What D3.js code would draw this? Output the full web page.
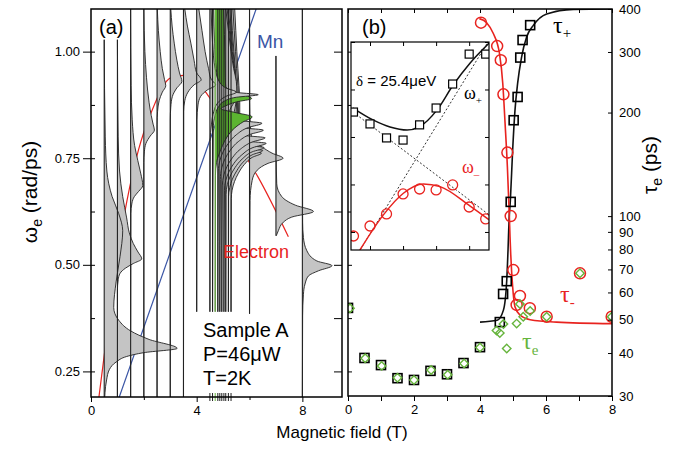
<!DOCTYPE html>
<html lang="en">
<head>
<meta charset="utf-8">
<title>Electron / Mn precession spectra and lifetimes</title>
<script src="https://cdn.jsdelivr.net/npm/d3@7"></script>
<style>
  body { margin: 0; background: #fff; }
  svg text { font-family: "Liberation Sans", Arial, sans-serif; fill: #000; }
  .serif { font-family: "Liberation Serif", "Times New Roman", serif !important; }
  .axis path.domain { display: none; }
  .axis line { stroke: #000; stroke-width: 1; }
  .axis text { font-size: 13px; }
</style>
</head>
<body>
<script>

// ---------- panel (a): spectra, one per field (T) ----------
var specField  = [0.5, 1.0, 1.5, 2.0, 2.5, 3.0, 3.5, 4.0, 4.5, 4.6, 4.7, 4.8, 4.875, 4.95, 5.03, 5.1, 5.2, 5.3, 6.0, 7.0, 8.0];
var specTop    = [1.028, 1.028, 1.10, 1.10, 1.10, 1.10, 1.10, 1.10, 1.10, 1.10, 1.10, 1.10, 1.10, 1.10, 1.10, 1.10, 1.10, 1.10, 1.10, 0.99, 1.10];
var specBottom = [0.19, 0.19, 0.19, 0.19, 0.19, 0.19, 0.19, 0.39, 0.39, 0.39, 0.39, 0.39, 0.39, 0.39, 0.39, 0.39, 0.39, 0.39, 0.385, 0.568, 0.19];
var specGreen  = 4.7;
// [omega (rad/ps), amplitude (T)]
var specCurve = [
  [[1.028,0],[0.80,0.04],[0.72,0.1],[0.66,0.3],[0.62,0.55],[0.58,0.7],[0.52,0.6],[0.46,0.45],[0.40,0.36],[0.37,0.55],[0.345,1.0],[0.325,1.7],[0.304,2.76],[0.294,1.5],[0.285,0.85],[0.272,0.45],[0.255,0.2],[0.23,0.09],[0.20,0.03],[0.19,0.02]],
  [[1.028,0],[0.80,0.03],[0.72,0.08],[0.66,0.2],[0.61,0.35],[0.575,0.45],[0.55,0.6],[0.53,0.78],[0.514,0.92],[0.503,0.6],[0.492,0.3],[0.48,0.1],[0.465,0.03],[0.44,0],[0.19,0]],
  [[1.10,0],[0.92,0.02],[0.84,0.06],[0.78,0.15],[0.745,0.27],[0.715,0.38],[0.686,0.46],[0.672,0.3],[0.66,0.14],[0.645,0.05],[0.62,0.01],[0.19,0]],
  [[1.10,0],[1.0,0.04],[0.94,0.1],[0.88,0.2],[0.85,0.28],[0.83,0.35],[0.816,0.40],[0.802,0.24],[0.785,0.08],[0.765,0.02],[0.74,0],[0.19,0]],
  [[1.10,0.01],[1.05,0.05],[1.0,0.12],[0.96,0.2],[0.935,0.28],[0.92,0.33],[0.905,0.2],[0.885,0.08],[0.86,0.02],[0.83,0],[0.19,0]],
  [[1.10,0.02],[1.06,0.07],[1.02,0.15],[0.98,0.25],[0.95,0.35],[0.93,0.44],[0.915,0.25],[0.895,0.08],[0.87,0.02],[0.84,0],[0.19,0]],
  [[1.10,0.05],[1.06,0.15],[1.02,0.28],[0.98,0.4],[0.95,0.5],[0.934,0.67],[0.922,0.4],[0.905,0.17],[0.885,0.05],[0.86,0.01],[0.19,0]],
  [[1.10,0.08],[1.05,0.2],[1.0,0.32],[0.96,0.45],[0.935,0.55],[0.922,0.72],[0.91,0.4],[0.895,0.15],[0.875,0.05],[0.84,0.01],[0.39,0]],
  [[1.10,0.05],[1.02,0.1],[0.96,0.2],[0.93,0.35],[0.915,0.6],[0.905,1.0],[0.895,0.6],[0.88,0.3],[0.86,0.15],[0.83,0.06],[0.79,0.01],[0.39,0]],
  [[1.10,0.04],[1.02,0.08],[0.96,0.14],[0.925,0.25],[0.91,0.5],[0.904,0.95],[0.899,1.73],[0.893,0.9],[0.884,0.45],[0.87,0.22],[0.85,0.1],[0.82,0.03],[0.39,0]],
  [[1.10,0.32],[1.04,0.35],[0.98,0.37],[0.94,0.38],[0.918,0.4],[0.905,0.75],[0.89,1.38],[0.882,0.8],[0.873,0.4],[0.866,0.22],[0.858,0.7],[0.847,1.40],[0.835,1.05],[0.82,0.72],[0.80,0.45],[0.78,0.28],[0.76,0.15],[0.74,0.05],[0.71,0.01],[0.39,0]],
  [[1.10,0.3],[1.05,0.4],[1.0,0.5],[0.96,0.6],[0.93,0.7],[0.905,0.72],[0.88,0.6],[0.86,0.45],[0.845,0.45],[0.838,0.9],[0.832,1.67],[0.822,1.15],[0.805,0.7],[0.785,0.4],[0.765,0.2],[0.745,0.08],[0.72,0.02],[0.39,0]],
  [[1.10,0.28],[1.05,0.36],[1.0,0.45],[0.96,0.53],[0.92,0.6],[0.89,0.62],[0.86,0.55],[0.835,0.45],[0.826,0.5],[0.821,0.9],[0.816,1.65],[0.806,1.15],[0.789,0.7],[0.769,0.4],[0.749,0.2],[0.729,0.08],[0.70,0.02],[0.39,0]],
  [[1.10,0.25],[1.05,0.32],[1.0,0.4],[0.96,0.47],[0.92,0.53],[0.88,0.56],[0.85,0.52],[0.82,0.45],[0.808,0.5],[0.803,0.9],[0.798,1.64],[0.788,1.15],[0.771,0.7],[0.751,0.4],[0.731,0.2],[0.711,0.08],[0.685,0.02],[0.39,0]],
  [[1.10,0.22],[1.05,0.28],[1.0,0.35],[0.96,0.41],[0.92,0.46],[0.88,0.5],[0.84,0.48],[0.805,0.42],[0.795,0.48],[0.79,0.88],[0.785,1.6],[0.775,1.1],[0.758,0.68],[0.738,0.38],[0.718,0.19],[0.698,0.07],[0.675,0.02],[0.39,0]],
  [[1.10,0.2],[1.05,0.25],[1.0,0.31],[0.96,0.36],[0.92,0.41],[0.88,0.44],[0.84,0.43],[0.795,0.38],[0.785,0.44],[0.78,0.8],[0.775,1.45],[0.765,1.0],[0.748,0.62],[0.728,0.35],[0.708,0.17],[0.688,0.06],[0.665,0.01],[0.39,0]],
  [[1.10,0.17],[1.05,0.22],[1.0,0.27],[0.96,0.31],[0.92,0.36],[0.88,0.39],[0.84,0.38],[0.788,0.34],[0.778,0.4],[0.773,0.72],[0.768,1.3],[0.758,0.9],[0.741,0.56],[0.721,0.32],[0.701,0.15],[0.681,0.05],[0.66,0.01],[0.39,0]],
  [[1.10,0.14],[1.05,0.18],[1.0,0.22],[0.96,0.26],[0.92,0.3],[0.88,0.33],[0.84,0.33],[0.782,0.3],[0.772,0.36],[0.767,0.64],[0.762,1.15],[0.752,0.8],[0.735,0.5],[0.715,0.28],[0.695,0.13],[0.675,0.04],[0.655,0.01],[0.39,0]],
  [[1.10,0],[0.88,0.01],[0.83,0.03],[0.792,0.1],[0.776,0.48],[0.762,0.85],[0.75,1.27],[0.738,0.7],[0.722,0.29],[0.698,0.1],[0.651,0.02],[0.385,0]],
  [[0.99,0],[0.75,0.01],[0.69,0.03],[0.66,0.22],[0.64,0.73],[0.625,1.42],[0.612,0.6],[0.60,0.28],[0.58,0.09],[0.568,0.01]],
  [[1.10,0],[0.60,0.01],[0.564,0.04],[0.533,0.17],[0.509,0.55],[0.498,1.12],[0.486,0.61],[0.474,0.23],[0.455,0.1],[0.431,0.04],[0.38,0.01],[0.19,0]]
];
// guide lines [field, omega]
var electronLine = [[0.28,0.18],[0.78,0.423],[0.98,0.514],[1.36,0.65],[1.8,0.77],[2.27,0.856],[3.03,0.939],[3.6,0.945],[4.4,0.90],[5.0,0.84],[5.64,0.776],[6.33,0.705],[7.47,0.566]];
var mnLine = [[1.07,0.19],[6.25,1.10]];

// ---------- panel (b): lifetimes (ps) vs field (T) ----------
var tauPlusB   = [0, 0.5, 1.0, 1.5, 2.0, 2.5, 3.0, 3.5, 4.0, 4.6, 4.7, 4.81, 4.93, 5.02, 5.14, 5.22, 5.29, 5.52];
var tauPlus    = [54.1, 38.7, 36.9, 33.8, 33.4, 35.5, 34.7, 37.4, 41.6, 49.2, 59.4, 64.7, 110, 190, 222, 289, 325, 359];
var tauMinusB  = [4.03, 4.52, 4.63, 4.71, 4.83, 4.93, 5.01, 5.11, 5.21, 5.51, 6.02, 7.03, 7.99];
var tauMinus   = [365, 312, 284, 226, 153, 100, 69.7, 55.2, 58.6, 54.0, 51.0, 68.2, 51.0];
var tauEB      = [0.06, 0.52, 1.02, 1.5, 2.0, 2.52, 3.02, 3.52, 4.0, 4.5, 4.6, 4.71, 4.81, 5.11, 5.21, 5.31, 5.52, 6.02, 7.03, 7.99];
var tauE       = [54.0, 38.6, 36.7, 33.9, 33.4, 35.7, 34.6, 37.3, 41.5, 46.5, 45.7, 48.6, 41.2, 48.7, 55.5, 51.0, 53.0, 51.0, 68.2, 51.0];
var tauPlusFit  = [[4.0,49.2],[4.52,49.8],[4.71,53.3],[4.81,65],[4.85,80],[4.88,97],[4.92,111],[4.99,156],[5.06,203],[5.14,243],[5.26,290],[5.41,331],[5.62,359],[6.02,387],[6.83,399],[8,400]];
var tauMinusFit = [[3.98,375],[4.2,365],[4.4,340],[4.59,297],[4.69,243],[4.76,186],[4.83,139],[4.89,99.5],[4.91,87],[4.93,78],[4.99,62.2],[5.06,54.5],[5.21,51.6],[5.52,50.0],[6.32,49.2],[8,48.7]];

// ---------- inset: anticrossing ----------
var insetB      = [4.5, 4.6, 4.7, 4.8, 4.9, 5.0, 5.1, 5.2, 5.3];
var omegaPlus   = [0.8505, 0.8455, 0.8396, 0.8387, 0.8451, 0.8522, 0.8623, 0.8749, 0.8749];
var omegaMinus  = [0.7983, 0.8025, 0.8076, 0.8160, 0.8181, 0.8177, 0.8198, 0.8105, 0.8055];
var omegaPlusFit  = [[4.497,0.8522],[4.618,0.8472],[4.721,0.8442],[4.824,0.8429],[4.897,0.8442],[5.006,0.8514],[5.103,0.8619],[5.206,0.8712],[5.321,0.8796]];
var omegaMinusFit = [[4.539,0.7924],[4.681,0.8072],[4.802,0.8163],[4.923,0.8202],[5.024,0.8191],[5.206,0.8109],[5.321,0.8051]];
var mnBare   = [[4.54,0.7924],[5.31,0.8796]];
var elBare   = [[4.497,0.8505],[5.321,0.8072]];

var red = "#e8231f", blue = "#3a55a5", green = "#66b43c", gray = "#c4c4c4", greenFill = "#5cb531";

var svg = d3.select("body").append("svg").attr("width", 690).attr("height", 453);

var xA = d3.scaleLinear().domain([0, 9.5]).range([91, 342]);
var yA = d3.scaleLinear().domain([0.19, 1.10]).range([397, 9]);
var xB = d3.scaleLinear().domain([0, 8]).range([348, 612]);
var yB = d3.scaleLog().domain([30, 400]).range([396, 9]);
var xI = d3.scaleLinear().domain([4.485, 5.32]).range([351, 489]);
var yI = d3.scaleLinear().domain([0.7924, 0.88]).range([250, 42]);

var defs = svg.append("defs");
defs.append("clipPath").attr("id", "clipA").append("rect")
  .attr("x", 91).attr("y", 9).attr("width", 251).attr("height", 388);
defs.append("clipPath").attr("id", "clipB").append("rect")
  .attr("x", 348).attr("y", 9).attr("width", 264).attr("height", 387);
defs.append("clipPath").attr("id", "clipI").append("rect")
  .attr("x", 351).attr("y", 42).attr("width", 138).attr("height", 208);

// ===== panel (a) =====
var gA = svg.append("g").attr("clip-path", "url(#clipA)");

var guide = d3.line().x(function(d) { return xA(d[0]); }).y(function(d) { return yA(d[1]); });
gA.append("path").attr("d", guide.curve(d3.curveMonotoneX)(electronLine))
  .attr("fill", "none").attr("stroke", red).attr("stroke-width", 1.2);
gA.append("path").attr("d", guide.curve(d3.curveLinear)(mnLine))
  .attr("fill", "none").attr("stroke", blue).attr("stroke-width", 1.2);

// spectra: high field first so that the lower-field ones sit on top
d3.range(specField.length - 1, -1, -1).forEach(function(i) {
  var b = specField[i], pts = specCurve[i];
  var area = d3.area().curve(d3.curveMonotoneY)
    .y(function(d) { return yA(d[0]); })
    .x0(xA(b))
    .x1(function(d) { return xA(b + d[1]); });
  var edge = d3.line().curve(d3.curveMonotoneY)
    .y(function(d) { return yA(d[0]); })
    .x(function(d) { return xA(b + d[1]); });
  gA.append("path").attr("d", area(pts))
    .attr("fill", b === specGreen ? greenFill : gray);
  gA.append("path").attr("d", edge(pts))
    .attr("fill", "none").attr("stroke", "#222").attr("stroke-width", 0.9);
});
specField.forEach(function(b, i) {
  gA.append("line")
    .attr("x1", xA(b)).attr("x2", xA(b))
    .attr("y1", yA(specTop[i])).attr("y2", yA(specBottom[i]))
    .attr("stroke", b === specGreen ? green : "#222").attr("stroke-width", 1.1);
});

// rug of measured fields on the axis
svg.append("g").selectAll("line").data(specField.filter(function(b) { return b > 4.2 && b < 5.5; }))
  .enter().append("line")
  .attr("x1", function(d) { return xA(d); }).attr("x2", function(d) { return xA(d); })
  .attr("y1", 393).attr("y2", 401)
  .attr("stroke", function(d) { return d === specGreen ? green : "#222"; }).attr("stroke-width", 1);

var omegaTicks = [0.25, 0.375, 0.5, 0.625, 0.75, 0.875, 1.0];
svg.append("g").attr("class", "axis").attr("transform", "translate(91,0)")
  .call(d3.axisLeft(yA).tickValues([0.25, 0.5, 0.75, 1.0]).tickFormat(d3.format(".2f")).tickSize(8).tickPadding(3));
svg.append("g").attr("class", "axis").attr("transform", "translate(91,0)")
  .call(d3.axisRight(yA).tickValues(omegaTicks).tickFormat("").tickSize(4));
svg.append("g").attr("class", "axis").attr("transform", "translate(342,0)")
  .call(d3.axisLeft(yA).tickValues(omegaTicks).tickFormat("").tickSize(8));
svg.append("g").attr("class", "axis").attr("transform", "translate(0,397)")
  .call(d3.axisBottom(xA).tickValues([0, 4, 8]).tickFormat(d3.format("d")).tickSize(5).tickPadding(4));
svg.append("g").attr("class", "axis").attr("transform", "translate(0,397)")
  .call(d3.axisBottom(xA).tickValues([2, 6]).tickFormat("").tickSize(3));

svg.append("rect").attr("x", 91).attr("y", 9).attr("width", 251).attr("height", 388)
  .attr("fill", "none").attr("stroke", "#000").attr("stroke-width", 1.5);

svg.append("text").attr("x", 99).attr("y", 34).style("font-size", "20px").text("(a)");
svg.append("text").attr("x", 257).attr("y", 48).style("font-size", "19px").style("fill", blue).text("Mn");
svg.append("text").attr("x", 223).attr("y", 258).style("font-size", "18px").style("fill", red).text("Electron");
["Sample A", "P=46\u03bcW", "T=2K"].forEach(function(t, i) {
  svg.append("text").attr("x", 203).attr("y", 337 + i * 24).style("font-size", "20px").text(t);
});

// ===== panel (b) =====
var gB = svg.append("g").attr("clip-path", "url(#clipB)");
var lineB = d3.line().curve(d3.curveMonotoneX)
  .x(function(d) { return xB(d[0]); }).y(function(d) { return yB(d[1]); });
gB.append("path").attr("d", lineB(tauPlusFit)).attr("fill", "none").attr("stroke", "#111").attr("stroke-width", 1.6);
gB.append("path").attr("d", lineB(tauMinusFit)).attr("fill", "none").attr("stroke", red).attr("stroke-width", 1.6);

gB.selectAll("rect.tp").data(tauPlus).enter().append("rect").attr("class", "tp")
  .attr("x", function(d, i) { return xB(tauPlusB[i]) - 4.5; })
  .attr("y", function(d) { return yB(d) - 4.5; })
  .attr("width", 9).attr("height", 9)
  .attr("fill", "none").attr("stroke", "#000").attr("stroke-width", 1.6);
gB.selectAll("circle.tm").data(tauMinus).enter().append("circle").attr("class", "tm")
  .attr("cx", function(d, i) { return xB(tauMinusB[i]); })
  .attr("cy", function(d) { return yB(d); })
  .attr("r", 5.5)
  .attr("fill", "none").attr("stroke", red).attr("stroke-width", 1.5);
var diamond = d3.symbol().type(d3.symbolSquare).size(36);
gB.selectAll("path.te").data(tauE).enter().append("path").attr("class", "te")
  .attr("d", diamond)
  .attr("transform", function(d, i) { return "translate(" + xB(tauEB[i]) + "," + yB(d) + ") rotate(45)"; })
  .attr("fill", "none").attr("stroke", green).attr("stroke-width", 1.4);

svg.append("g").attr("class", "axis").attr("transform", "translate(0,396)")
  .call(d3.axisBottom(xB).tickValues(d3.range(0, 9)).tickFormat(function(d) { return d % 2 ? "" : d; }).tickSize(5).tickPadding(4));
svg.append("g").attr("class", "axis").attr("transform", "translate(0,9)")
  .call(d3.axisBottom(xB).tickValues(d3.range(0, 9)).tickFormat("").tickSize(4));
svg.append("g").attr("class", "axis").attr("transform", "translate(348,0)")
  .call(d3.axisRight(yA).tickValues(omegaTicks).tickFormat("").tickSize(4));
var tauTicks = [30, 40, 50, 60, 70, 80, 90, 100, 200, 300, 400];
svg.append("g").attr("class", "axis").attr("transform", "translate(612,0)")
  .call(d3.axisLeft(yB).tickValues(tauTicks).tickFormat("").tickSize(4));
svg.append("g").attr("class", "axis").attr("transform", "translate(612,0)")
  .call(d3.axisRight(yB).tickValues(tauTicks).tickFormat(d3.format("d")).tickSize(0).tickPadding(7));

svg.append("rect").attr("x", 348).attr("y", 9).attr("width", 264).attr("height", 387)
  .attr("fill", "none").attr("stroke", "#000").attr("stroke-width", 1.5);

svg.append("text").attr("x", 362).attr("y", 34).style("font-size", "20px").text("(b)");

function subLabel(x, y, main, sub, size, color, down) {
  var t = svg.append("text").attr("x", x).attr("y", y).attr("class", "serif")
    .style("font-size", size + "px").style("fill", color);
  t.append("tspan").text(main);
  t.append("tspan").attr("dy", down).style("font-size", Math.round(size * 0.62) + "px").text(sub);
}
subLabel(553, 33, "\u03c4", "+", 24, "#000", 5);
subLabel(560, 302, "\u03c4", "-", 24, red, 5);
subLabel(522, 349, "\u03c4", "e", 24, green, 6);

// ===== inset =====
svg.append("rect").attr("x", 351).attr("y", 42).attr("width", 138).attr("height", 208)
  .attr("fill", "#fff").attr("stroke", "none");
var gI = svg.append("g").attr("clip-path", "url(#clipI)");
var lineI = d3.line().x(function(d) { return xI(d[0]); }).y(function(d) { return yI(d[1]); });
[mnBare, elBare].forEach(function(seg) {
  gI.append("path").attr("d", lineI(seg)).attr("fill", "none")
    .attr("stroke", "#333").attr("stroke-width", 1).attr("stroke-dasharray", "2,2");
});
gI.append("path").attr("d", lineI.curve(d3.curveMonotoneX)(omegaPlusFit))
  .attr("fill", "none").attr("stroke", "#111").attr("stroke-width", 1.5);
gI.append("path").attr("d", lineI.curve(d3.curveMonotoneX)(omegaMinusFit))
  .attr("fill", "none").attr("stroke", red).attr("stroke-width", 1.5);
gI.selectAll("rect.op").data(omegaPlus).enter().append("rect").attr("class", "op")
  .attr("x", function(d, i) { return xI(insetB[i]) - 4; })
  .attr("y", function(d) { return yI(d) - 4; })
  .attr("width", 8).attr("height", 8)
  .attr("fill", "#fff").attr("stroke", "#000").attr("stroke-width", 1.2);
gI.selectAll("circle.om").data(omegaMinus).enter().append("circle").attr("class", "om")
  .attr("cx", function(d, i) { return xI(insetB[i]); })
  .attr("cy", function(d) { return yI(d); })
  .attr("r", 5)
  .attr("fill", "none").attr("stroke", red).attr("stroke-width", 1.3);

var insetBTicks = [4.6, 4.8, 5.0, 5.2];
var insetWTicks = [0.80, 0.82, 0.84, 0.86, 0.88];
svg.append("g").attr("class", "axis").attr("transform", "translate(0,42)")
  .call(d3.axisBottom(xI).tickValues(insetBTicks).tickFormat("").tickSize(4));
svg.append("g").attr("class", "axis").attr("transform", "translate(0,250)")
  .call(d3.axisTop(xI).tickValues(insetBTicks).tickFormat("").tickSize(4));
svg.append("g").attr("class", "axis").attr("transform", "translate(351,0)")
  .call(d3.axisRight(yI).tickValues(insetWTicks).tickFormat("").tickSize(4));
svg.append("g").attr("class", "axis").attr("transform", "translate(489,0)")
  .call(d3.axisLeft(yI).tickValues(insetWTicks).tickFormat("").tickSize(4));
svg.append("rect").attr("x", 351).attr("y", 42).attr("width", 138).attr("height", 208)
  .attr("fill", "none").attr("stroke", "#000").attr("stroke-width", 1.2);

svg.append("text").attr("x", 356).attr("y", 86).style("font-size", "15px")
  .html('<tspan class="serif">\u03b4</tspan> = 25.4\u03bceV');
subLabel(464, 99, "\u03c9", "+", 18, "#000", 5);
subLabel(462, 173, "\u03c9", "\u2013", 18, red, 5);

// ===== axis titles =====
var yl = svg.append("text").attr("transform", "translate(37,192) rotate(-90)")
  .attr("text-anchor", "middle").style("font-size", "21px");
yl.append("tspan").text("\u03c9");
yl.append("tspan").attr("dy", 5).style("font-size", "14px").text("e");
yl.append("tspan").attr("dy", -5).text(" (rad/ps)");

var yr = svg.append("text").attr("transform", "translate(657,165) rotate(-90)")
  .attr("text-anchor", "middle").style("font-size", "21px");
yr.append("tspan").text("\u03c4");
yr.append("tspan").attr("dy", 5).style("font-size", "14px").text("e");
yr.append("tspan").attr("dy", -5).text(" (ps)");

svg.append("text").attr("x", 342).attr("y", 438).attr("text-anchor", "middle")
  .style("font-size", "17px").text("Magnetic field (T)");

</script>
</body>
</html>
